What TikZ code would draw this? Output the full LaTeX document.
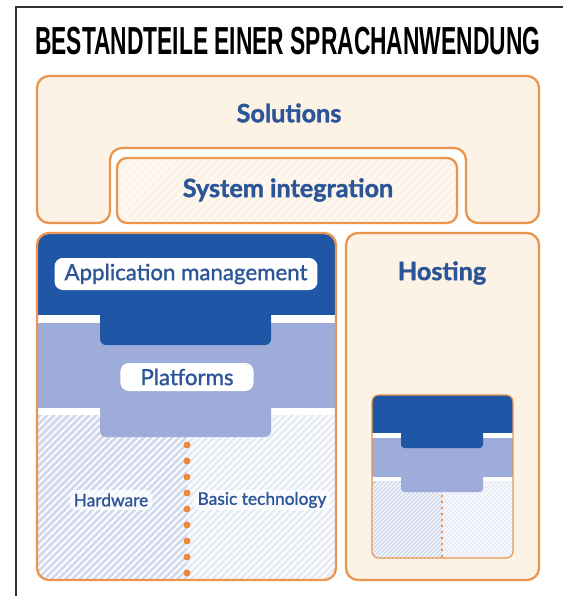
\documentclass[tikz,border=0pt]{standalone}
\usepackage{fontspec}
\setmainfont{Lato}
\newfontfamily\titlefont{Liberation Sans}
\newfontfamily\medfont{Lato}[FakeBold=1.2]
\newfontfamily\headfont{Lato Bold}[FakeBold=1.5]
\usetikzlibrary{positioning}
\definecolor{borderorange}{HTML}{EA9550}
\definecolor{dotorange}{HTML}{EE8A3A}
\definecolor{cream}{HTML}{FDF2E6}
\definecolor{darkblue}{HTML}{1F56A6}
\definecolor{midblue}{HTML}{9DACD8}
\definecolor{hwblue}{HTML}{D2DAEE}
\definecolor{btblue}{HTML}{E7EBF6}
\definecolor{labelblue}{HTML}{2B5597}
\tikzset{orangeline/.style = {draw=borderorange, line width=2pt}}
\tikzset{heading/.style = {text=labelblue, font=\fontsize{21.5}{24}\headfont}}
\tikzset{tag/.style = {fill=white, rounded corners=0.25cm, text=labelblue, inner ysep=0, font=\fontsize{19}{20}\medfont}}
\tikzset{smalltag/.style = {fill=white, fill opacity=0.75, text opacity=1, rounded corners=0.2cm, text=labelblue, inner ysep=0, inner xsep=0.12cm, minimum height=0.6cm, font=\fontsize{14.8}{16}\medfont}}
\tikzset{stripes/.style = {white, line width=1.5pt}}

\begin{document}
\begin{tikzpicture}[x=0.03cm, y=-0.03cm]
  \useasboundingbox (0,0) rectangle (563,596);
  \draw[line width=1.2pt, black!80] (16,596) -- (16,7) -- (563,7);
  \node[anchor=base west, inner sep=0] (title) at (35,55)
    {\resizebox{15.15cm}{0.82cm}{\titlefont\bfseries BESTANDTEILE EINER SPRACHANWENDUNG}};

  % solutions and system integration
  \draw[orangeline, fill=cream, rounded corners=0.36cm] (37,76) -- (539,76) -- (539,223) -- (466,223)
    -- (466,148) -- (110,148) -- (110,223) -- (37,223) -- cycle;
  \begin{scope}
    \clip[rounded corners=0.3cm] (117,158) rectangle (457,223);
    \fill[cream!60!white] (117,158) rectangle (457,223);
    \foreach \i in {20,28,...,460} \draw[cream!40!orange!25, line width=0.6pt] (\i,230) -- ++(80,-80);
  \end{scope}
  \draw[orangeline, rounded corners=0.3cm] (117,158) rectangle (457,223);
  \node[heading] (solutions) at (289,113) {Solutions};
  \node[heading] (sysint) at (288,190) {System integration};

  % left stack
  \begin{scope}
    \clip[rounded corners=0.36cm] (37,233) rectangle (336,580);
    \fill[hwblue] (37,415) rectangle (187,580);
    \fill[btblue] (187,415) rectangle (336,580);
    \foreach \i in {-140,-133,...,340} \draw[stripes] (\i,585) -- ++(180,-180);
    \fill[white] (37,315) rectangle (336,415);
    \fill[midblue] (37,323) rectangle (336,408);
    \fill[midblue, rounded corners=0.18cm] (100,390) rectangle (271,437);
    \fill[darkblue] (37,233) rectangle (336,315);
    \fill[darkblue, rounded corners=0.18cm] (100,300) rectangle (271,345);
  \end{scope}
  \foreach \k in {0,...,8} \fill[dotorange] (187,445+\k*16) circle (3.5);
  \draw[orangeline, rounded corners=0.36cm] (37,233) rectangle (336,580);
  \node[tag, minimum height=0.96cm, inner xsep=0.3cm] (appmgmt) at (186,274) {Application management};
  \node[tag, minimum height=0.84cm, inner xsep=0.6cm] (platforms) at (187,377) {Platforms};
  \node[smalltag] (hardware) at (111,500) {Hardware};
  \node[smalltag] (basictech) at (262,500) {Basic technology};

  % hosting
  \draw[orangeline, fill=cream, rounded corners=0.36cm] (346,233) rectangle (539,580);
  \node[heading] (hosting) at (442,273) {Hosting};
  \begin{scope}
    \clip[rounded corners=0.2cm] (372,395) rectangle (513,558);
    \fill[hwblue] (372,481) rectangle (442,558);
    \fill[btblue] (442,481) rectangle (513,558);
    \foreach \i in {300,304,...,520} \draw[white, line width=0.7pt] (\i,560) -- ++(90,-90);
    \fill[white] (372,433) rectangle (513,481);
    \fill[midblue] (372,438) rectangle (513,477);
    \fill[midblue, rounded corners=0.1cm] (401,470) rectangle (483,492);
    \fill[darkblue] (372,395) rectangle (513,433);
    \fill[darkblue, rounded corners=0.1cm] (401,425) rectangle (483,448);
  \end{scope}
  \foreach \k in {0,...,10} \fill[dotorange] (442,496+\k*6) circle (1.3);
  \draw[borderorange, line width=1pt, rounded corners=0.2cm] (372,395) rectangle (513,558);
\end{tikzpicture}
\end{document}
